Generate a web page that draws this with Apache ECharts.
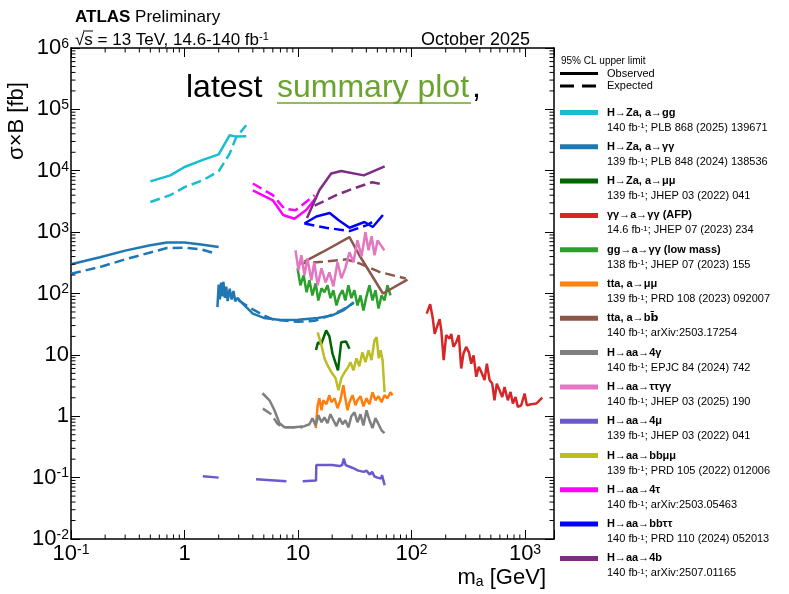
<!DOCTYPE html>
<html>
<head>
<meta charset="utf-8">
<script src="https://cdn.jsdelivr.net/npm/echarts@6/dist/echarts.min.js"></script>
<style>
html,body{margin:0;padding:0;background:#fff;}
#main{width:789px;height:594px;}
</style>
</head>
<body>
<div id="main"></div>
<script>
/* axis ticks */
var xTicks=[0.1,1,10,100,1000];
var xTickLabels=['10{s|-1}','1','10','10{s|2}','10{s|3}'];
var yTicks=[0.01,0.1,1,10,100,1000,1e4,1e5,1e6];
var yTickLabels=['10{s|-2}','10{s|-1}','1','10','10{s|2}','10{s|3}','10{s|4}','10{s|5}','10{s|6}'];
var minorSteps=[2,3,4,5,6,7,8,9];

/* legend text */
var names=['H\u2192Za, a\u2192gg','H\u2192Za, a\u2192\u03b3\u03b3','H\u2192Za, a\u2192\u03bc\u03bc','\u03b3\u03b3\u2192a\u2192\u03b3\u03b3 (AFP)',
  'gg\u2192a\u2192\u03b3\u03b3 (low mass)','tta, a\u2192\u03bc\u03bc','tta, a\u2192b{o|b\u0304}','H\u2192aa\u21924\u03b3',
  'H\u2192aa\u2192\u03c4\u03c4\u03b3\u03b3','H\u2192aa\u21924\u03bc','H\u2192aa\u2192bb\u03bc\u03bc','H\u2192aa\u21924\u03c4',
  'H\u2192aa\u2192bb\u03c4\u03c4','H\u2192aa\u21924b'];
var lumis=['140','139','139','14.6','138','139','140','140','140','139','139','140','140','140'];
var refs=['PLB 868 (2025) 139671','PLB 848 (2024) 138536','JHEP 03 (2022) 041','JHEP 07 (2023) 234',
  'JHEP 07 (2023) 155','PRD 108 (2023) 092007','arXiv:2503.17254','EPJC 84 (2024) 742',
  'JHEP 03 (2025) 190','JHEP 03 (2022) 041','PRD 105 (2022) 012006','arXiv:2503.05463',
  'PRD 110 (2024) 052013','arXiv:2507.01165'];
var colors=['#17becf','#1f77b4','#006400','#d62728','#2ca02c','#ff7f0e','#8c564b','#7f7f7f',
  '#e377c2','#6a5acd','#bcbd22','#ff00ff','#0000ff','#7d2e82'];

/* limits [m_a GeV, sigma x B fb], null = gap */
var zaGgObs=[[0.5,6700],[0.75,8400],[1,11500],[1.45,15000],[2,18500],[2.5,38000],[2.85,36000],[3.5,36500]];
var zaGgExp=[[0.5,3100],[0.75,4000],[1,5400],[1.45,7000],[2,9800],[2.5,19000],[2.85,35000],[3.5,55000]];
var zaGamObs=[[0.1,300],[0.18,390],[0.3,500],[0.5,610],[0.7,680],[1,680],[1.4,630],[2,570],null,
  [1.95,60],[2.0,140],[2.05,80],[2.1,150],[2.15,90],[2.2,155],[2.27,85],[2.33,130],[2.4,75],[2.5,120],
  [2.6,80],[2.7,110],[2.8,75],[2.95,85],[3.05,77],[4,47],[5,40],[7,37],[10,37.5],[15,40],[20,44],[25,53],[31,72]];
var zaGamExp=[[0.1,210],[0.18,270],[0.3,360],[0.5,465],[0.7,550],[1,560],[1.4,525],[1.9,445],null,
  [3,77],[4,55],[5,44],[6,38],[10,34.5],[14,36],[20,45],[25,55],[31,70]];
var zaMuObs=[[14.4,12],[15,16],[16,15],[17.7,25],[18.9,20],[20.1,10.6],[22.5,5.6],[24,16],[26.5,16.5],[28.4,12.6]];
var afpObs=[[136,47],[146,67],[154,39],[160,22],[171,32],[177,38],[183,25],[192,8.2],[202,21],[216,18.4],
  [224,22],[234,13.5],[248,16.2],[261,21],[274,6.0],[287,10.5],[303,13.5],[320,11.1],[336,7.2],[352,9.8],
  [372,4.4],[392,6.4],[411,5.3],[440,3.9],[461,7.2],[487,3.9],[514,3.4],[538,1.82],[564,3.4],[596,2.65],
  [630,2.06],[660,3.0],[705,1.82],[745,2.49],[781,1.61],[825,2.06],[864,1.42],[926,1.51],[991,2.34],
  [1038,1.51],[1135,1.57],[1256,1.61],[1419,2.02]];
var lowMassObs=[[9.9,257],[10.5,136],[11.2,198],[11.9,105],[12.6,164],[13.4,93],[14.3,147],[15.1,77],
  [16.1,122],[17.1,105],[18.2,136],[19.3,84],[20.5,113],[21.8,64],[23.2,93],[24.7,113],[26.1,77],[27.8,136],
  [29.5,84],[31.4,113],[33.4,64],[35.5,93],[37.7,53],[40.1,90],[42.6,136],[45.3,77],[48.1,113],[51.2,57],
  [54.4,93],[57.8,77],[61.4,136],[65.3,93]];
var ttaMuObs=[[14.3,0.64],[14.9,1.51],[15.4,1.96],[16.1,1.25],[16.7,1.82],[17.8,1.57],[18.9,2.2],[19.7,1.69],
  [21.0,1.96],[22.3,1.35],[23.6,1.82],[25.1,3.2],[26.1,1.96],[27.3,1.25],[28.4,1.69],[30.2,2.2],[32.1,1.51],
  [33.4,1.82],[35.5,2.12],[37.7,1.45],[40.1,1.96],[42.6,1.57],[45.3,2.46],[48.1,1.82],[51.2,2.12],[54.4,1.69],
  [57.8,2.2],[61.4,1.96],[65.3,2.46],[67.9,2.2]];
var ttaBbObs=[[11.4,330],[16.5,475],[28.4,830],[34.7,420],[56,100],[92,168]];
var ttaBbExp=[[10,307],[16.5,330],[26.6,360],[34.7,310],[52,225],[89,175]];
var fourGamObs=[[4.86,2.37],[5.61,1.82],[6.2,1.25],[6.86,0.77],[7.6,0.66],[9.3,0.66],[11.4,0.69],[12.6,0.74],
  [13.4,0.93],[14.3,0.71],[15.1,1.04],[16.1,0.8],[17.1,0.96],[18.2,0.77],[19.3,1.08],[20.5,0.86],[21.8,0.69],
  [23.2,0.93],[24.7,0.74],[26.1,0.86],[27.8,0.66],[29.5,1.0],[31.4,1.16],[33.4,0.8],[35.5,1.08],[37.7,0.71],
  [40.1,1.25],[42.6,0.86],[45.3,0.64],[48.1,0.93],[51.2,0.74],[54.4,0.59],[57.8,0.53]];
var fourGamExp=[[4.9,1.33],[5.8,1.08],[6.6,0.75],[7.5,0.66],[11,0.66]];
var ttggObs=[[9.5,505],[10.1,239],[10.7,419],[11.4,198],[12.1,374],[13.1,164],[13.9,322],[14.9,136],
  [16.1,257],[17.5,152],[18.9,221],[20.5,131],[22.3,322],[24.1,177],[26.1,257],[28.4,469],[30.8,322],
  [33.4,735],[36.3,403],[39.3,993],[41.8,505],[44.5,855],[47.2,419],[50.3,735],[54.5,587],[57.6,505]];
var fourMuObs=[[1.45,0.105],[2.0,0.1],null,[4.27,0.094],[7.9,0.087],null,[11,0.087],[14.4,0.09],[14.5,0.16],
  [20,0.16],[23.2,0.155],[24.5,0.16],[25.3,0.205],[26.3,0.16],[30,0.145],[34,0.13],[38,0.124],[40,0.13],
  [43,0.112],[45,0.125],[47,0.105],[50,0.1],[54,0.097],[55,0.11],[56.5,0.09],[58,0.075]];
var bbMuObs=[[14.9,23.3],[16.1,14.3],[17.1,8.8],[18.2,6.8],[19.7,5.2],[21.4,4.2],[22.7,2.65],[24.1,4.2],
  [25.7,5.2],[27.3,6.05],[29.0,7.6],[30.8,5.6],[32.7,8.8],[34.7,6.5],[36.9,11],[39.3,7.6],[41.8,11.9],
  [44.4,8.2],[47.2,17.3],[49.3,19.4],[51.4,8.8],[53.4,11.9],[55.6,8.2],[57.9,2.46]];
var fourTauObs=[[4,4800],[6,3300],[7.4,1900],[9.3,1650],[11.8,2300],[14.5,3700]];
var fourTauExp=[[4,6200],[6,4000],[7.6,2400],[9.5,2270],[14,4000]];
var bbTauObs=[[11.4,1380],[14.5,1800],[19,2050],[23,1550],[28.4,1180],[38.5,1460],[45.6,1210],[56,1900]];
var bbTauExp=[[11.4,1380],[17.6,1180],[28.4,1040],[40,1290],[48,1550]];
var fourBObs=[[12,1700],[15.4,4800],[19.6,9000],[24,9900],[38,8400],[58,11800]];
var fourBExp=[[14,2700],[21.7,4000],[30.5,5100],[45,6500],[56,6000]];

var obsList=[zaGgObs,zaGamObs,zaMuObs,afpObs,lowMassObs,ttaMuObs,ttaBbObs,fourGamObs,ttggObs,fourMuObs,bbMuObs,fourTauObs,bbTauObs,fourBObs];
var expList=[zaGgExp,zaGamExp,null,null,null,null,ttaBbExp,fourGamExp,null,null,null,fourTauExp,bbTauExp,fourBExp];

!function(){
  var FONT='"Liberation Sans", Arial, sans-serif';
  var xMin=0.1,xMax=1800,yMin=0.01,yMax=1e6;
  var chart=echarts.init(document.getElementById('main'));

  function pickLabel(ticks,labels){
    return function(v){
      for(var i=0;i<ticks.length;i++){
        if(Math.abs(Math.log10(v)-Math.log10(ticks[i]))<1e-6) return labels[i];
      }
      return '';
    };
  }
  function toData(arr){
    return arr.map(function(p){return p?p:['-','-'];});
  }
  function plain(n){return n.replace(/\{o\|([^}]*)\}/g,'$1');}
  function lineSeries(name,color,data,dash){
    return {
      name:name,type:'line',xAxisIndex:0,yAxisIndex:0,
      data:toData(data),showSymbol:false,symbol:'none',connectNulls:false,
      lineStyle:{color:color,width:2.5,type:dash},
      silent:true,z:3
    };
  }

  var series=[];
  names.forEach(function(n,i){
    if(obsList[i]) series.push(lineSeries(plain(n),colors[i],obsList[i],'solid'));
    if(expList[i]) series.push(lineSeries(plain(n)+' exp',colors[i],expList[i],[10,5]));
  });

  /* minor ticks, log style */
  var minorX=[],minorY=[];
  xTicks.forEach(function(d){minorSteps.forEach(function(m){if(d*m<xMax) minorX.push([d*m,yMin]);});});
  yTicks.forEach(function(d){minorSteps.forEach(function(m){if(d*m<yMax) minorY.push([xMin,d*m]);});});
  series.push({
    type:'custom',silent:true,data:minorX,clip:false,z:5,
    renderItem:function(params,api){
      var cs=params.coordSys,p=api.coord([api.value(0),api.value(1)]);
      return {type:'group',children:[
        {type:'line',shape:{x1:p[0],y1:cs.y+cs.height,x2:p[0],y2:cs.y+cs.height-4.5},style:{stroke:'#000',lineWidth:1}},
        {type:'line',shape:{x1:p[0],y1:cs.y,x2:p[0],y2:cs.y+4.5},style:{stroke:'#000',lineWidth:1}}
      ]};
    }
  });
  series.push({
    type:'custom',silent:true,data:minorY,clip:false,z:5,
    renderItem:function(params,api){
      var cs=params.coordSys,p=api.coord([api.value(0),api.value(1)]);
      return {type:'group',children:[
        {type:'line',shape:{x1:cs.x,y1:p[1],x2:cs.x+4.5,y2:p[1]},style:{stroke:'#000',lineWidth:1}},
        {type:'line',shape:{x1:cs.x+cs.width,y1:p[1],x2:cs.x+cs.width-4.5,y2:p[1]},style:{stroke:'#000',lineWidth:1}}
      ]};
    }
  });

  var labelRich={s:{fontSize:14,fontFamily:FONT,color:'#000',verticalAlign:'top'}};
  function logAxis(pos,isX,show){
    return {
      type:'log',logBase:10,position:pos,
      min:isX?xMin:yMin,max:isX?xMax:yMax,
      splitLine:{show:false},
      axisLine:{show:true,onZero:false,lineStyle:{color:'#000',width:1.5}},
      axisTick:{show:true,inside:true,length:9,lineStyle:{color:'#000',width:1}},
      axisLabel:{show:show,color:'#000',fontSize:22,fontFamily:FONT,margin:isX?4:2,
        formatter:isX?pickLabel(xTicks,xTickLabels):pickLabel(yTicks,yTickLabels),
        rich:labelRich,showMinLabel:true,showMaxLabel:true,hideOverlap:false},
      minorTick:{show:false}
    };
  }

  /* legend blocks */
  var graphic=[];
  var lx=560,tx=607,top0=112.5,step=34.3;
  graphic.push({type:'text',x:561,y:61.5,style:{text:'95% CL upper limit',font:'10px '+FONT,fill:'#000',verticalAlign:'middle'}});
  graphic.push({type:'line',shape:{x1:lx,y1:73.5,x2:598,y2:73.5},style:{stroke:'#000',lineWidth:3}});
  graphic.push({type:'text',x:tx,y:73.5,style:{text:'Observed',font:'11px '+FONT,fill:'#000',verticalAlign:'middle'}});
  graphic.push({type:'line',shape:{x1:lx,y1:86,x2:598,y2:86},style:{stroke:'#000',lineWidth:3,lineDash:[14,8]}});
  graphic.push({type:'text',x:tx,y:86,style:{text:'Expected',font:'11px '+FONT,fill:'#000',verticalAlign:'middle'}});
  names.forEach(function(n,i){
    var y=top0+i*step;
    graphic.push({type:'rect',shape:{x:lx,y:y-2.5,width:38,height:5},style:{fill:colors[i]}});
    graphic.push({type:'text',x:tx,y:y,style:{text:n,font:'bold 11px '+FONT,fill:'#000',verticalAlign:'middle',
      rich:{o:{fontSize:11,fontWeight:'bold',fontFamily:'"DejaVu Sans", sans-serif'}}}});
    graphic.push({type:'text',x:tx,y:y+15,style:{
      text:lumis[i]+' fb{s|-1}; '+refs[i],font:'11px '+FONT,fill:'#000',verticalAlign:'middle',
      rich:{s:{fontSize:8,fontFamily:FONT,verticalAlign:'top'}}}});
  });

  /* headers */
  graphic.push({type:'text',x:75,y:17,style:{text:'{b|ATLAS} Preliminary',font:'17px '+FONT,fill:'#000',verticalAlign:'middle',
    rich:{b:{fontSize:17,fontWeight:'bold',fontFamily:FONT}}}});
  graphic.push({type:'text',x:75,y:40,style:{text:'\u221as = 13 TeV, 14.6-140 fb{s|-1}',font:'17px '+FONT,fill:'#000',verticalAlign:'middle',
    rich:{s:{fontSize:11,fontFamily:FONT,verticalAlign:'top'}}}});
  graphic.push({type:'line',shape:{x1:83,y1:31,x2:93,y2:31},style:{stroke:'#000',lineWidth:1}});
  graphic.push({type:'text',x:530,y:40,style:{text:'October 2025',font:'18px '+FONT,fill:'#000',align:'right',verticalAlign:'middle'}});
  graphic.push({type:'text',x:186,y:88,style:{text:'latest',font:'32px '+FONT,fill:'#000',verticalAlign:'middle'}});
  graphic.push({type:'text',x:277,y:88,style:{text:'summary plot',font:'32px '+FONT,fill:'#6aa42f',verticalAlign:'middle'}});
  graphic.push({type:'line',shape:{x1:277,y1:103,x2:471,y2:103},style:{stroke:'#6aa42f',lineWidth:1.5}});
  graphic.push({type:'text',x:472,y:88,style:{text:',',font:'32px '+FONT,fill:'#000',verticalAlign:'middle'}});
  /* axis titles */
  graphic.push({type:'text',x:17,y:121,rotation:Math.PI/2,style:{text:'\u03c3\u00d7B [fb]',font:'22px '+FONT,fill:'#000',align:'center',verticalAlign:'middle'}});
  graphic.push({type:'text',x:546,y:578,style:{text:'m{u|a} [GeV]',font:'22px '+FONT,fill:'#000',align:'right',verticalAlign:'middle',
    rich:{u:{fontSize:14,fontFamily:FONT,verticalAlign:'bottom'}}}});

  chart.setOption({
    animation:false,
    backgroundColor:'#fff',
    grid:{left:71,top:48,right:235,bottom:55,containLabel:false},
    xAxis:[logAxis('bottom',true,true),logAxis('top',true,false)],
    yAxis:[logAxis('left',false,true),logAxis('right',false,false)],
    graphic:graphic,
    series:series
  });
}();
</script>
</body>
</html>
